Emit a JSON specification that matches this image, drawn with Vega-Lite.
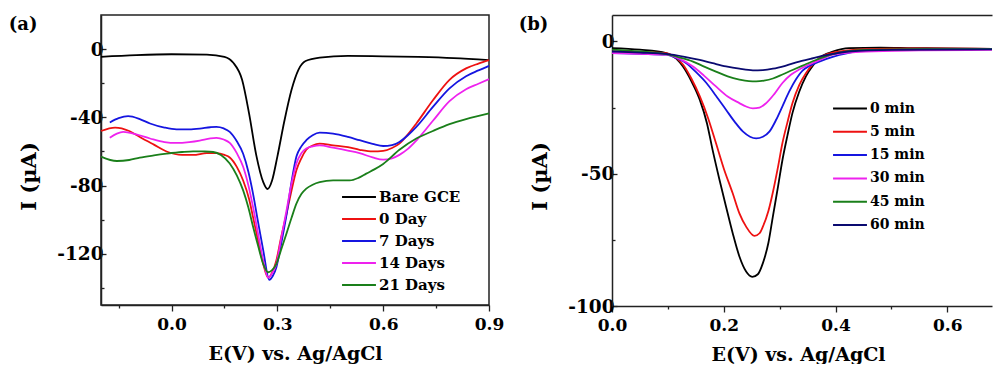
{
  "$schema": "https://vega.github.io/schema/vega-lite/v6.json",
  "background": "white",
  "padding": {"left": 7, "top": 14, "right": 0, "bottom": 0},
  "autosize": {"type": "pad"},
  "config": {
    "font": "DejaVu Serif",
    "view": {"stroke": "#222", "strokeWidth": 1.5},
    "axis": {"grid": false, "labelFont": "DejaVu Serif", "labelFontWeight": "bold", "labelFontSize": 17, "labelColor": "black", "titleFont": "DejaVu Serif", "titleFontWeight": "bold", "titleFontSize": 19, "titleColor": "black", "domainColor": "#222", "domainWidth": 1.5, "tickColor": "#222", "tickWidth": 1.3},
    "axisY": {"labelFontSize": 18.5, "titleFontSize": 21},
    "legend": {"orient": "none", "symbolType": "stroke", "symbolSize": 1150, "symbolStrokeWidth": 2, "labelFont": "DejaVu Serif", "labelFontWeight": "bold", "labelColor": "black", "clipHeight": 16, "padding": 0, "labelOffset": 2, "title": null},
    "title": {"font": "DejaVu Serif", "fontWeight": "bold", "fontSize": 18, "color": "black", "anchor": "start", "frame": "bounds", "offset": 0}
  },
  "datasets": {
    "a": [
      {"s":"Bare GCE","E":-0.2,"I":-4.5},{"s":"Bare GCE","E":-0.1,"I":-3.5},{"s":"Bare GCE","E":0.0,"I":-3},{"s":"Bare GCE","E":0.1,"I":-3.2},{"s":"Bare GCE","E":0.15,"I":-4.5},{"s":"Bare GCE","E":0.175,"I":-8},{"s":"Bare GCE","E":0.2,"I":-18},{"s":"Bare GCE","E":0.22,"I":-38},{"s":"Bare GCE","E":0.24,"I":-62},{"s":"Bare GCE","E":0.26,"I":-78},{"s":"Bare GCE","E":0.272,"I":-82},{"s":"Bare GCE","E":0.285,"I":-77},{"s":"Bare GCE","E":0.3,"I":-63},{"s":"Bare GCE","E":0.32,"I":-42},{"s":"Bare GCE","E":0.34,"I":-24},{"s":"Bare GCE","E":0.36,"I":-12},{"s":"Bare GCE","E":0.38,"I":-7},{"s":"Bare GCE","E":0.42,"I":-5},{"s":"Bare GCE","E":0.5,"I":-4},{"s":"Bare GCE","E":0.6,"I":-4.2},{"s":"Bare GCE","E":0.7,"I":-4.6},{"s":"Bare GCE","E":0.8,"I":-5.3},{"s":"Bare GCE","E":0.9,"I":-6.5},
      {"s":"0 Day","E":-0.2,"I":-48},{"s":"0 Day","E":-0.16,"I":-46},{"s":"0 Day","E":-0.12,"I":-48},{"s":"0 Day","E":-0.09,"I":-51.5},{"s":"0 Day","E":-0.05,"I":-56},{"s":"0 Day","E":-0.014,"I":-60},{"s":"0 Day","E":0.03,"I":-62},{"s":"0 Day","E":0.061,"I":-62},{"s":"0 Day","E":0.1,"I":-61},{"s":"0 Day","E":0.127,"I":-61},{"s":"0 Day","E":0.15,"I":-62},{"s":"0 Day","E":0.165,"I":-63.5},{"s":"0 Day","E":0.185,"I":-69},{"s":"0 Day","E":0.203,"I":-77},{"s":"0 Day","E":0.22,"I":-88},{"s":"0 Day","E":0.231,"I":-98.5},{"s":"0 Day","E":0.245,"I":-112},{"s":"0 Day","E":0.26,"I":-126},{"s":"0 Day","E":0.274,"I":-134},{"s":"0 Day","E":0.285,"I":-131},{"s":"0 Day","E":0.297,"I":-124},{"s":"0 Day","E":0.31,"I":-111},{"s":"0 Day","E":0.326,"I":-96.5},{"s":"0 Day","E":0.34,"I":-83},{"s":"0 Day","E":0.354,"I":-71},{"s":"0 Day","E":0.368,"I":-64},{"s":"0 Day","E":0.382,"I":-59},{"s":"0 Day","E":0.4,"I":-56.5},{"s":"0 Day","E":0.42,"I":-55.4},{"s":"0 Day","E":0.458,"I":-56.4},{"s":"0 Day","E":0.5,"I":-57.5},{"s":"0 Day","E":0.533,"I":-59},{"s":"0 Day","E":0.57,"I":-60},{"s":"0 Day","E":0.6,"I":-59.7},{"s":"0 Day","E":0.625,"I":-58},{"s":"0 Day","E":0.646,"I":-55.4},{"s":"0 Day","E":0.67,"I":-50},{"s":"0 Day","E":0.694,"I":-43.6},{"s":"0 Day","E":0.741,"I":-30},{"s":"0 Day","E":0.788,"I":-18},{"s":"0 Day","E":0.835,"I":-11.3},{"s":"0 Day","E":0.87,"I":-8.5},{"s":"0 Day","E":0.9,"I":-6.5},
      {"s":"7 Days","E":-0.175,"I":-43},{"s":"7 Days","E":-0.15,"I":-40.5},{"s":"7 Days","E":-0.123,"I":-39.3},{"s":"7 Days","E":-0.09,"I":-41},{"s":"7 Days","E":-0.061,"I":-43.6},{"s":"7 Days","E":-0.02,"I":-46},{"s":"7 Days","E":0.014,"I":-47},{"s":"7 Days","E":0.05,"I":-47},{"s":"7 Days","E":0.08,"I":-46.6},{"s":"7 Days","E":0.11,"I":-45.8},{"s":"7 Days","E":0.127,"I":-45.6},{"s":"7 Days","E":0.148,"I":-46.5},{"s":"7 Days","E":0.165,"I":-48.5},{"s":"7 Days","E":0.185,"I":-54},{"s":"7 Days","E":0.203,"I":-61.3},{"s":"7 Days","E":0.218,"I":-72},{"s":"7 Days","E":0.231,"I":-84.7},{"s":"7 Days","E":0.245,"I":-101},{"s":"7 Days","E":0.26,"I":-118},{"s":"7 Days","E":0.277,"I":-135.2},{"s":"7 Days","E":0.287,"I":-133},{"s":"7 Days","E":0.297,"I":-128},{"s":"7 Days","E":0.31,"I":-115},{"s":"7 Days","E":0.326,"I":-97},{"s":"7 Days","E":0.34,"I":-78},{"s":"7 Days","E":0.354,"I":-63},{"s":"7 Days","E":0.368,"I":-57},{"s":"7 Days","E":0.382,"I":-53.4},{"s":"7 Days","E":0.4,"I":-50.5},{"s":"7 Days","E":0.42,"I":-49},{"s":"7 Days","E":0.458,"I":-49.6},{"s":"7 Days","E":0.5,"I":-51.5},{"s":"7 Days","E":0.533,"I":-53.4},{"s":"7 Days","E":0.57,"I":-55.5},{"s":"7 Days","E":0.6,"I":-56.8},{"s":"7 Days","E":0.625,"I":-56.3},{"s":"7 Days","E":0.646,"I":-54.4},{"s":"7 Days","E":0.67,"I":-50.5},{"s":"7 Days","E":0.694,"I":-45.6},{"s":"7 Days","E":0.741,"I":-33.9},{"s":"7 Days","E":0.788,"I":-23},{"s":"7 Days","E":0.835,"I":-15.9},{"s":"7 Days","E":0.87,"I":-12.5},{"s":"7 Days","E":0.9,"I":-9.8},
      {"s":"14 Days","E":-0.175,"I":-51.9},{"s":"14 Days","E":-0.155,"I":-49.5},{"s":"14 Days","E":-0.137,"I":-48.5},{"s":"14 Days","E":-0.1,"I":-50},{"s":"14 Days","E":-0.061,"I":-52.4},{"s":"14 Days","E":-0.02,"I":-54.5},{"s":"14 Days","E":0.014,"I":-55},{"s":"14 Days","E":0.05,"I":-54.5},{"s":"14 Days","E":0.08,"I":-53.6},{"s":"14 Days","E":0.11,"I":-52.3},{"s":"14 Days","E":0.127,"I":-52},{"s":"14 Days","E":0.148,"I":-53},{"s":"14 Days","E":0.165,"I":-55},{"s":"14 Days","E":0.185,"I":-61},{"s":"14 Days","E":0.203,"I":-69},{"s":"14 Days","E":0.218,"I":-80},{"s":"14 Days","E":0.231,"I":-92.5},{"s":"14 Days","E":0.245,"I":-108},{"s":"14 Days","E":0.26,"I":-124},{"s":"14 Days","E":0.274,"I":-134},{"s":"14 Days","E":0.285,"I":-131.5},{"s":"14 Days","E":0.297,"I":-126},{"s":"14 Days","E":0.31,"I":-112},{"s":"14 Days","E":0.326,"I":-94.5},{"s":"14 Days","E":0.34,"I":-79},{"s":"14 Days","E":0.354,"I":-67},{"s":"14 Days","E":0.368,"I":-61},{"s":"14 Days","E":0.382,"I":-58.3},{"s":"14 Days","E":0.4,"I":-57},{"s":"14 Days","E":0.42,"I":-56.4},{"s":"14 Days","E":0.458,"I":-57.8},{"s":"14 Days","E":0.5,"I":-59.5},{"s":"14 Days","E":0.533,"I":-61},{"s":"14 Days","E":0.57,"I":-63.5},{"s":"14 Days","E":0.6,"I":-64.8},{"s":"14 Days","E":0.625,"I":-64},{"s":"14 Days","E":0.646,"I":-62},{"s":"14 Days","E":0.67,"I":-58.5},{"s":"14 Days","E":0.694,"I":-53.6},{"s":"14 Days","E":0.741,"I":-42},{"s":"14 Days","E":0.788,"I":-30.5},{"s":"14 Days","E":0.835,"I":-23.5},{"s":"14 Days","E":0.87,"I":-20.3},{"s":"14 Days","E":0.9,"I":-17.6},
      {"s":"21 Days","E":-0.2,"I":-63},{"s":"21 Days","E":-0.155,"I":-65.6},{"s":"21 Days","E":-0.12,"I":-65},{"s":"21 Days","E":-0.09,"I":-63.6},{"s":"21 Days","E":-0.05,"I":-62.3},{"s":"21 Days","E":-0.014,"I":-61.3},{"s":"21 Days","E":0.03,"I":-60.3},{"s":"21 Days","E":0.061,"I":-59.9},{"s":"21 Days","E":0.09,"I":-60},{"s":"21 Days","E":0.118,"I":-60.3},{"s":"21 Days","E":0.14,"I":-62},{"s":"21 Days","E":0.165,"I":-67},{"s":"21 Days","E":0.185,"I":-74},{"s":"21 Days","E":0.203,"I":-82.8},{"s":"21 Days","E":0.218,"I":-93},{"s":"21 Days","E":0.231,"I":-104},{"s":"21 Days","E":0.245,"I":-115},{"s":"21 Days","E":0.26,"I":-126},{"s":"21 Days","E":0.274,"I":-130.8},{"s":"21 Days","E":0.285,"I":-129.5},{"s":"21 Days","E":0.297,"I":-126},{"s":"21 Days","E":0.31,"I":-118},{"s":"21 Days","E":0.326,"I":-108},{"s":"21 Days","E":0.34,"I":-99},{"s":"21 Days","E":0.354,"I":-90.6},{"s":"21 Days","E":0.368,"I":-85},{"s":"21 Days","E":0.382,"I":-81.8},{"s":"21 Days","E":0.4,"I":-79.5},{"s":"21 Days","E":0.42,"I":-78},{"s":"21 Days","E":0.458,"I":-77},{"s":"21 Days","E":0.505,"I":-77},{"s":"21 Days","E":0.53,"I":-75.5},{"s":"21 Days","E":0.552,"I":-73},{"s":"21 Days","E":0.575,"I":-70.5},{"s":"21 Days","E":0.6,"I":-67.3},{"s":"21 Days","E":0.646,"I":-59},{"s":"21 Days","E":0.694,"I":-52.4},{"s":"21 Days","E":0.741,"I":-48},{"s":"21 Days","E":0.788,"I":-44},{"s":"21 Days","E":0.835,"I":-41},{"s":"21 Days","E":0.9,"I":-37.7}
    ],
    "b": [
      {"t":"0 min","E":0,"I":-2.5},{"t":"0 min","E":0.05,"I":-3.1},{"t":"0 min","E":0.097,"I":-4.4},{"t":"0 min","E":0.115,"I":-6.5},{"t":"0 min","E":0.127,"I":-9.5},{"t":"0 min","E":0.142,"I":-15},{"t":"0 min","E":0.157,"I":-22},{"t":"0 min","E":0.17,"I":-31},{"t":"0 min","E":0.18,"I":-41},{"t":"0 min","E":0.192,"I":-52},{"t":"0 min","E":0.204,"I":-62.4},{"t":"0 min","E":0.216,"I":-72.5},{"t":"0 min","E":0.228,"I":-81.3},{"t":"0 min","E":0.24,"I":-87},{"t":"0 min","E":0.251,"I":-89},{"t":"0 min","E":0.261,"I":-88},{"t":"0 min","E":0.27,"I":-83.8},{"t":"0 min","E":0.28,"I":-76},{"t":"0 min","E":0.288,"I":-66},{"t":"0 min","E":0.297,"I":-55},{"t":"0 min","E":0.305,"I":-44.8},{"t":"0 min","E":0.314,"I":-35.5},{"t":"0 min","E":0.323,"I":-27},{"t":"0 min","E":0.335,"I":-19},{"t":"0 min","E":0.347,"I":-13.2},{"t":"0 min","E":0.36,"I":-9},{"t":"0 min","E":0.371,"I":-6.3},{"t":"0 min","E":0.385,"I":-4.6},{"t":"0 min","E":0.395,"I":-3.8},{"t":"0 min","E":0.424,"I":-2.5},{"t":"0 min","E":0.48,"I":-2.3},{"t":"0 min","E":0.54,"I":-2.5},{"t":"0 min","E":0.6,"I":-2.6},{"t":"0 min","E":0.68,"I":-2.8},
      {"t":"5 min","E":0,"I":-3.8},{"t":"5 min","E":0.05,"I":-4},{"t":"5 min","E":0.097,"I":-4.4},{"t":"5 min","E":0.115,"I":-6.3},{"t":"5 min","E":0.127,"I":-8.7},{"t":"5 min","E":0.142,"I":-14},{"t":"5 min","E":0.157,"I":-20.7},{"t":"5 min","E":0.172,"I":-29},{"t":"5 min","E":0.186,"I":-38.4},{"t":"5 min","E":0.2,"I":-48},{"t":"5 min","E":0.216,"I":-57.4},{"t":"5 min","E":0.228,"I":-65},{"t":"5 min","E":0.24,"I":-70},{"t":"5 min","E":0.255,"I":-73.5},{"t":"5 min","E":0.264,"I":-72.5},{"t":"5 min","E":0.27,"I":-70},{"t":"5 min","E":0.28,"I":-64},{"t":"5 min","E":0.288,"I":-56.9},{"t":"5 min","E":0.297,"I":-47.5},{"t":"5 min","E":0.305,"I":-38.4},{"t":"5 min","E":0.314,"I":-30.5},{"t":"5 min","E":0.323,"I":-23.3},{"t":"5 min","E":0.335,"I":-16.5},{"t":"5 min","E":0.347,"I":-12},{"t":"5 min","E":0.36,"I":-8.5},{"t":"5 min","E":0.371,"I":-6.3},{"t":"5 min","E":0.385,"I":-4.8},{"t":"5 min","E":0.395,"I":-4.2},{"t":"5 min","E":0.454,"I":-2.9},{"t":"5 min","E":0.54,"I":-2.6},{"t":"5 min","E":0.68,"I":-2.8},
      {"t":"15 min","E":0,"I":-4.4},{"t":"15 min","E":0.05,"I":-4.7},{"t":"15 min","E":0.097,"I":-5},{"t":"15 min","E":0.115,"I":-6.3},{"t":"15 min","E":0.133,"I":-8.2},{"t":"15 min","E":0.15,"I":-11.5},{"t":"15 min","E":0.169,"I":-15.7},{"t":"15 min","E":0.186,"I":-20.5},{"t":"15 min","E":0.204,"I":-25.8},{"t":"15 min","E":0.22,"I":-30.5},{"t":"15 min","E":0.234,"I":-34},{"t":"15 min","E":0.247,"I":-36},{"t":"15 min","E":0.258,"I":-36.6},{"t":"15 min","E":0.27,"I":-36},{"t":"15 min","E":0.282,"I":-34},{"t":"15 min","E":0.294,"I":-29.5},{"t":"15 min","E":0.305,"I":-24.5},{"t":"15 min","E":0.317,"I":-19},{"t":"15 min","E":0.329,"I":-14.4},{"t":"15 min","E":0.341,"I":-11},{"t":"15 min","E":0.353,"I":-9.3},{"t":"15 min","E":0.371,"I":-7.6},{"t":"15 min","E":0.395,"I":-5.8},{"t":"15 min","E":0.42,"I":-4.5},{"t":"15 min","E":0.454,"I":-3.5},{"t":"15 min","E":0.55,"I":-3},{"t":"15 min","E":0.68,"I":-2.9},
      {"t":"30 min","E":0,"I":-4.4},{"t":"30 min","E":0.05,"I":-4.7},{"t":"30 min","E":0.097,"I":-5},{"t":"30 min","E":0.12,"I":-6.5},{"t":"30 min","E":0.145,"I":-9.5},{"t":"30 min","E":0.165,"I":-13},{"t":"30 min","E":0.186,"I":-17},{"t":"30 min","E":0.207,"I":-20.8},{"t":"30 min","E":0.228,"I":-23.3},{"t":"30 min","E":0.24,"I":-24.6},{"t":"30 min","E":0.252,"I":-25.3},{"t":"30 min","E":0.264,"I":-25},{"t":"30 min","E":0.276,"I":-23.3},{"t":"30 min","E":0.29,"I":-20},{"t":"30 min","E":0.305,"I":-15.7},{"t":"30 min","E":0.32,"I":-12.6},{"t":"30 min","E":0.335,"I":-10.6},{"t":"30 min","E":0.35,"I":-9},{"t":"30 min","E":0.365,"I":-7.6},{"t":"30 min","E":0.38,"I":-6.2},{"t":"30 min","E":0.395,"I":-5},{"t":"30 min","E":0.454,"I":-3.8},{"t":"30 min","E":0.55,"I":-3.4},{"t":"30 min","E":0.68,"I":-3.2},
      {"t":"45 min","E":0,"I":-3.1},{"t":"45 min","E":0.05,"I":-3.8},{"t":"45 min","E":0.097,"I":-4.8},{"t":"45 min","E":0.12,"I":-6},{"t":"45 min","E":0.145,"I":-7.6},{"t":"45 min","E":0.165,"I":-9.5},{"t":"45 min","E":0.186,"I":-11.4},{"t":"45 min","E":0.207,"I":-13.2},{"t":"45 min","E":0.228,"I":-14.4},{"t":"45 min","E":0.245,"I":-15},{"t":"45 min","E":0.258,"I":-15.1},{"t":"45 min","E":0.272,"I":-14.8},{"t":"45 min","E":0.288,"I":-14},{"t":"45 min","E":0.305,"I":-12.5},{"t":"45 min","E":0.323,"I":-10.8},{"t":"45 min","E":0.345,"I":-8.8},{"t":"45 min","E":0.365,"I":-7},{"t":"45 min","E":0.38,"I":-5.8},{"t":"45 min","E":0.395,"I":-4.8},{"t":"45 min","E":0.454,"I":-3.2},{"t":"45 min","E":0.55,"I":-2.9},{"t":"45 min","E":0.68,"I":-2.9},
      {"t":"60 min","E":0,"I":-3.8},{"t":"60 min","E":0.05,"I":-4.2},{"t":"60 min","E":0.097,"I":-4.7},{"t":"60 min","E":0.13,"I":-5.8},{"t":"60 min","E":0.157,"I":-7},{"t":"60 min","E":0.18,"I":-8.2},{"t":"60 min","E":0.204,"I":-9.4},{"t":"60 min","E":0.228,"I":-10.3},{"t":"60 min","E":0.252,"I":-10.9},{"t":"60 min","E":0.27,"I":-10.8},{"t":"60 min","E":0.288,"I":-10.3},{"t":"60 min","E":0.31,"I":-9.2},{"t":"60 min","E":0.335,"I":-7.6},{"t":"60 min","E":0.355,"I":-6.6},{"t":"60 min","E":0.371,"I":-5.7},{"t":"60 min","E":0.395,"I":-4.7},{"t":"60 min","E":0.424,"I":-3.8},{"t":"60 min","E":0.5,"I":-3.2},{"t":"60 min","E":0.68,"I":-3}
    ]
  },
  "spacing": 123,
  "bounds": "flush",
  "resolve": {"scale": {"x": "independent", "y": "independent", "color": "independent"}},
  "hconcat": [
    {
      "width": 388,
      "height": 290,
      "title": {"text": "(a)", "dx": -10, "dy": 23},
      "data": {"name": "a"},
      "mark": {"type": "line", "strokeWidth": 1.8, "interpolate": "monotone"},
      "encoding": {
        "x": {"field": "E", "type": "quantitative", "scale": {"domain": [-0.2, 0.9], "nice": false, "zero": false},
          "axis": {"title": "E(V) vs. Ag/AgCl", "values": [-0.15, 0, 0.15, 0.3, 0.45, 0.6, 0.75, 0.9],
            "labelExpr": "abs(round(datum.value*100)) % 30 === 0 ? format(datum.value, '.1f') : ''",
            "tickSize": {"condition": {"test": "abs(round(datum.value*100)) % 30 !== 0", "value": 3}, "value": 6},
            "labelPadding": 5, "titlePadding": 12, "labelFlush": false}},
        "y": {"field": "I", "type": "quantitative", "scale": {"domain": [-150, 20], "nice": false, "zero": false},
          "axis": {"title": "I (µA)", "values": [-140, -120, -100, -80, -60, -40, -20, 0],
            "labelExpr": "datum.value % 40 === 0 ? '' + datum.value : ''",
            "tickSize": {"condition": {"test": "datum.value % 40 !== 0", "value": -3}, "value": -5},
            "labelPadding": 3, "titlePadding": 17, "labelFlush": false, "titleY": 161}},
        "color": {"field": "s", "type": "nominal", "sort": ["Bare GCE", "0 Day", "7 Days", "14 Days", "21 Days"],
          "scale": {"domain": ["Bare GCE", "0 Day", "7 Days", "14 Days", "21 Days"], "range": ["#000000", "#ee1111", "#1515e0", "#ee22ee", "#1a7f1a"]},
          "legend": {"legendX": 240, "legendY": 174, "rowPadding": 6, "labelFontSize": 15}}
      }
    },
    {
      "width": 380,
      "height": 291,
      "view": {"stroke": null},
      "title": {"text": "(b)", "dx": -11, "dy": 23},
      "data": {"name": "b"},
      "resolve": {"axis": {"x": "independent"}},
      "layer": [
        {
          "mark": {"type": "line", "strokeWidth": 1.8, "interpolate": "monotone"},
          "encoding": {
            "x": {"field": "E", "type": "quantitative", "scale": {"domain": [0, 0.68], "nice": false, "zero": false},
              "axis": {"title": "E(V) vs. Ag/AgCl", "values": [0, 0.1, 0.2, 0.3, 0.4, 0.5, 0.6],
                "labelExpr": "round(datum.value*10) % 2 === 0 ? format(datum.value, '.1f') : ''",
                "tickSize": {"condition": {"test": "round(datum.value*10) % 2 !== 0", "value": 3}, "value": 6},
                "labelPadding": 5, "titlePadding": 12, "labelFlush": false, "titleX": 186}},
            "y": {"field": "I", "type": "quantitative", "scale": {"domain": [-100, 10], "nice": false, "zero": false},
              "axis": {"title": "I (µA)", "values": [-100, -75, -50, -25, 0],
                "labelExpr": "datum.value % 50 === 0 ? '' + datum.value : ''",
                "tickSize": {"condition": {"test": "datum.value % 50 !== 0", "value": -3}, "value": -5},
                "labelPadding": 3, "titlePadding": 17, "labelFlush": false, "titleY": 161}},
            "color": {"field": "t", "type": "nominal", "sort": ["0 min", "5 min", "15 min", "30 min", "45 min", "60 min"],
              "scale": {"domain": ["0 min", "5 min", "15 min", "30 min", "45 min", "60 min"], "range": ["#000000", "#ee1111", "#1515e0", "#ee22ee", "#1a7f1a", "#0a0a70"]},
              "legend": {"legendX": 220, "legendY": 85.5, "rowPadding": 7.3, "labelFontSize": 14}}
          }
        },
        {
          "mark": {"type": "line", "opacity": 0},
          "encoding": {
            "x": {"field": "E", "type": "quantitative", "axis": {"orient": "top", "labels": false, "ticks": false, "title": null, "domain": true}},
            "y": {"field": "I", "type": "quantitative"}
          }
        }
      ]
    }
  ]
}
